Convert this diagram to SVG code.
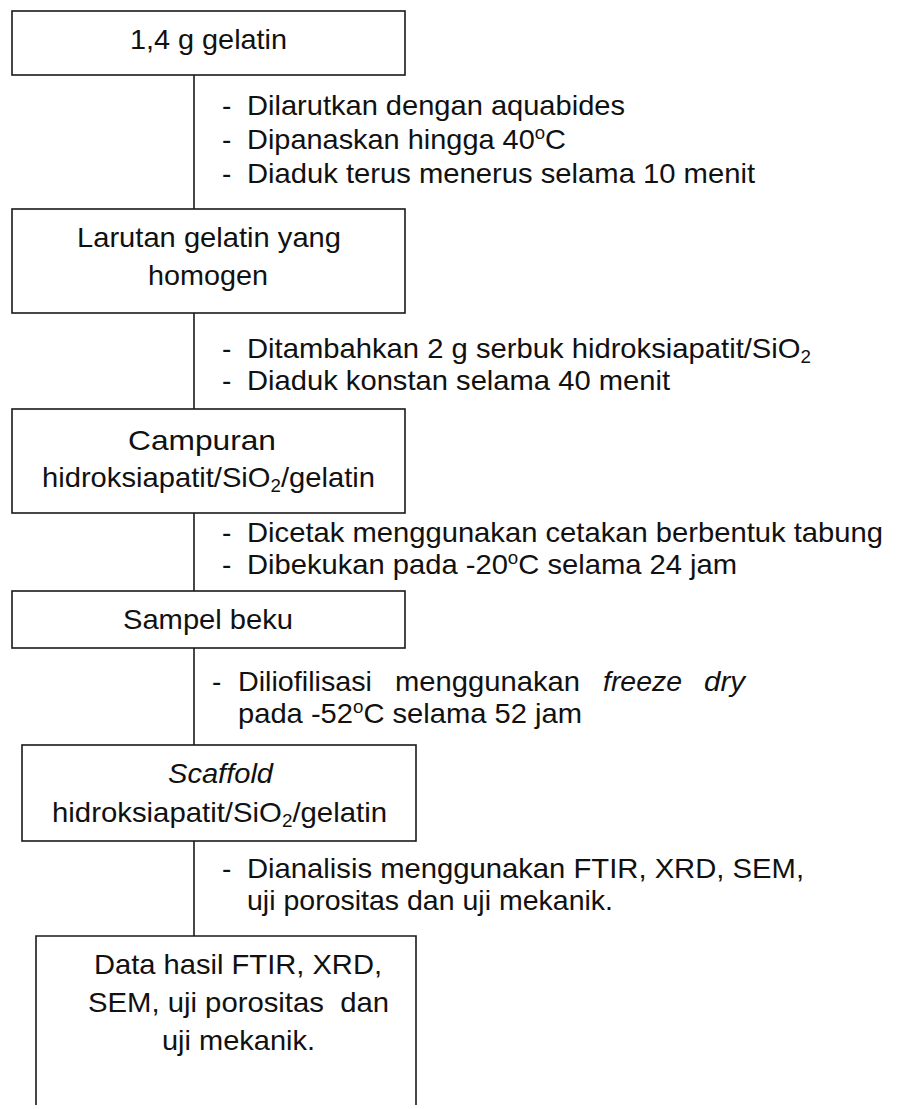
<svg xmlns="http://www.w3.org/2000/svg" width="902" height="1109" viewBox="0 0 902 1109">
<style>
.box{fill:#fff;stroke:#1a1a1a;stroke-width:1.6}
.con line{stroke:#1a1a1a;stroke-width:1.6}
text{font-family:"Liberation Sans",Arial,sans-serif;font-size:28px;fill:#111}
.it{font-style:italic}
.sup{font-size:18px}
</style>
<rect width="902" height="1109" fill="#fff"/>
<g id="connectors" class="con">
<line x1="194" y1="75" x2="194" y2="209"/>
<line x1="194" y1="313" x2="194" y2="409"/>
<line x1="194" y1="513" x2="194" y2="591"/>
<line x1="194" y1="648" x2="194" y2="745"/>
<line x1="194" y1="841" x2="194" y2="936"/>
</g>
<g id="node1">
<rect class="box" x="12" y="11" width="393" height="64"/>
<text x="130" y="49" textLength="157" lengthAdjust="spacingAndGlyphs">1,4 g gelatin</text>
</g>
<g id="step1">
<text x="222" y="115">-</text>
<text x="247" y="115" textLength="378" lengthAdjust="spacingAndGlyphs">Dilarutkan dengan aquabides</text>
<text x="222" y="149">-</text>
<text x="247" y="149" textLength="319" lengthAdjust="spacingAndGlyphs">Dipanaskan hingga 40<tspan class="sup" dy="-10">o</tspan><tspan dy="10">C</tspan></text>
<text x="222" y="183">-</text>
<text x="247" y="183" textLength="508" lengthAdjust="spacingAndGlyphs">Diaduk terus menerus selama 10 menit</text>
</g>
<g id="node2">
<rect class="box" x="12" y="209" width="393" height="104"/>
<text x="77" y="247" textLength="264" lengthAdjust="spacingAndGlyphs">Larutan gelatin yang</text>
<text x="148" y="285" textLength="120" lengthAdjust="spacingAndGlyphs">homogen</text>
</g>
<g id="step2">
<text x="222" y="358">-</text>
<text x="247" y="358" textLength="564" lengthAdjust="spacingAndGlyphs">Ditambahkan 2 g serbuk hidroksiapatit/SiO<tspan class="sup" dy="5">2</tspan></text>
<text x="222" y="390">-</text>
<text x="247" y="390" textLength="423" lengthAdjust="spacingAndGlyphs">Diaduk konstan selama 40 menit</text>
</g>
<g id="node3">
<rect class="box" x="12" y="409" width="393" height="104"/>
<text x="128" y="450" textLength="148" lengthAdjust="spacingAndGlyphs">Campuran</text>
<text x="42" y="487" textLength="333" lengthAdjust="spacingAndGlyphs">hidroksiapatit/SiO<tspan class="sup" dy="5">2</tspan><tspan dy="-5">/gelatin</tspan></text>
</g>
<g id="step3">
<text x="222" y="542">-</text>
<text x="247" y="542" textLength="636" lengthAdjust="spacingAndGlyphs">Dicetak menggunakan cetakan berbentuk tabung</text>
<text x="222" y="574">-</text>
<text x="247" y="574" textLength="490" lengthAdjust="spacingAndGlyphs">Dibekukan pada -20<tspan class="sup" dy="-10">o</tspan><tspan dy="10">C selama 24 jam</tspan></text>
</g>
<g id="node4">
<rect class="box" x="12" y="591" width="393" height="57"/>
<text x="123" y="629" textLength="170" lengthAdjust="spacingAndGlyphs">Sampel beku</text>
</g>
<g id="step4">
<text x="212" y="691">-</text>
<text x="238" y="691" textLength="134" lengthAdjust="spacingAndGlyphs">Diliofilisasi</text>
<text x="395" y="691" textLength="185" lengthAdjust="spacingAndGlyphs">menggunakan</text>
<text class="it" x="603" y="691" textLength="79" lengthAdjust="spacingAndGlyphs">freeze</text>
<text class="it" x="704" y="691" textLength="41" lengthAdjust="spacingAndGlyphs">dry</text>
<text x="238" y="723" textLength="344" lengthAdjust="spacingAndGlyphs">pada -52<tspan class="sup" dy="-10">o</tspan><tspan dy="10">C selama 52 jam</tspan></text>
</g>
<g id="node5">
<rect class="box" x="22" y="745" width="394" height="96"/>
<text class="it" x="168" y="783" textLength="105" lengthAdjust="spacingAndGlyphs">Scaffold</text>
<text x="52" y="822" textLength="335" lengthAdjust="spacingAndGlyphs">hidroksiapatit/SiO<tspan class="sup" dy="5">2</tspan><tspan dy="-5">/gelatin</tspan></text>
</g>
<g id="step5">
<text x="222" y="878">-</text>
<text x="247" y="878" textLength="557" lengthAdjust="spacingAndGlyphs">Dianalisis menggunakan FTIR, XRD, SEM,</text>
<text x="247" y="910" textLength="366" lengthAdjust="spacingAndGlyphs">uji porositas dan uji mekanik.</text>
</g>
<g id="node6">
<path class="box" d="M36 1105 V936 H416 V1105"/>
<text x="94" y="974" textLength="288" lengthAdjust="spacingAndGlyphs">Data hasil FTIR, XRD,</text>
<text x="88" y="1012" textLength="301" lengthAdjust="spacingAndGlyphs">SEM, uji porositas&#160; dan</text>
<text x="162" y="1050" textLength="153" lengthAdjust="spacingAndGlyphs">uji mekanik.</text>
</g>
</svg>
